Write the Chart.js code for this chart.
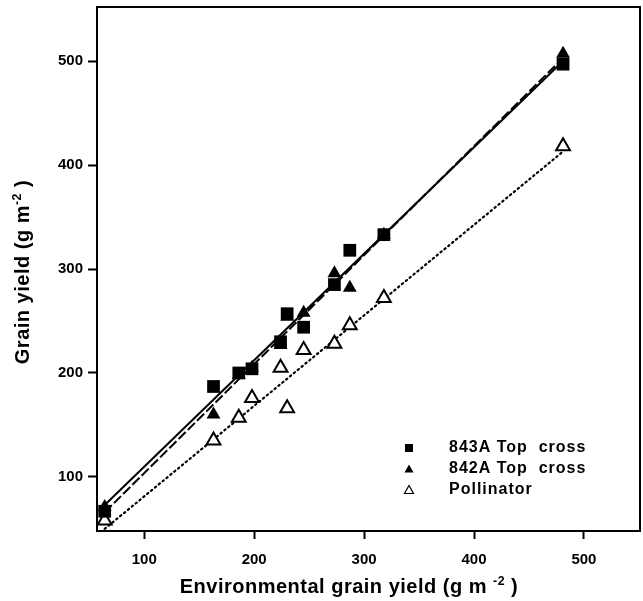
<!DOCTYPE html>
<html>
<head>
<meta charset="utf-8">
<script src="https://cdn.jsdelivr.net/npm/chart.js@4/dist/chart.umd.min.js"></script>
<style>
  body { margin: 0; background: #fff; }
  canvas { display: block; }
</style>
</head>
<body>
<canvas id="myChart" width="643" height="601"></canvas>
<script>
// Datos
let envYield     = [64, 163, 186, 198, 224, 230, 245, 273, 287, 318, 481];
let yield843A    = [67, 187, 200, 204, 230, 257, 244, 285, 318, 333, 497];
let yield842A    = [71, 160, 198, 205, 227, 254, 258, 296, 282, 333, 507];
let yieldPollin  = [58, 135, 157, 176, 205, 166, 222, 228, 246, 272, 418];
// rectas de regresion (extremos)
let fit843A      = [[64, 73], [481, 500]];
let fit842A      = [[64, 66], [481, 503]];
let fitPollin    = [[64, 50], [481, 413]];
let tickValues   = [100, 200, 300, 400, 500];
let seriesLabels = ["843A Top  cross", "842A Top  cross", "Pollinator"];

const toPts = (ys) => envYield.map((x, i) => ({ x: x, y: ys[i] }));
const toLine = (f) => f.map((p) => ({ x: p[0], y: p[1] }));

// titulos con superindice
function drawParts(ctx, parts, size) {
  let total = 0;
  parts.forEach((p) => {
    ctx.font = "bold " + (p[1] ? size * 0.62 : size) + "px 'Liberation Sans', Arial, sans-serif";
    total += ctx.measureText(p[0]).width;
  });
  let x = -total / 2;
  parts.forEach((p) => {
    ctx.font = "bold " + (p[1] ? size * 0.62 : size) + "px 'Liberation Sans', Arial, sans-serif";
    ctx.fillText(p[0], x, p[1] ? -size * 0.42 : 0);
    x += ctx.measureText(p[0]).width;
  });
}

const framePlugin = {
  id: "frame",
  afterDraw(chart) {
    const ctx = chart.ctx;
    const a = chart.chartArea;
    ctx.save();
    ctx.strokeStyle = "#000";
    ctx.lineWidth = 2;
    ctx.strokeRect(a.left, a.top, a.right - a.left, a.bottom - a.top);

    ctx.fillStyle = "#000";
    ctx.textBaseline = "alphabetic";
    ctx.textAlign = "left";
    ctx.letterSpacing = "0.5px";
    // titulo eje x
    ctx.save();
    ctx.translate(349, 593);
    drawParts(ctx, [["Environmental grain yield (g m ", false], ["-2", true], [" )", false]], 20);
    ctx.restore();
    // titulo eje y
    ctx.save();
    ctx.translate(29, 272);
    ctx.rotate(-Math.PI / 2);
    drawParts(ctx, [["Grain yield (g m", false], ["-2", true], [" )", false]], 20);
    ctx.restore();

    // leyenda
    const rows = [448, 469, 490];
    ctx.font = "bold 16px 'Liberation Sans', Arial, sans-serif";
    ctx.letterSpacing = "1px";
    ctx.textBaseline = "middle";
    rows.forEach((ry, i) => {
      const mx = 409;
      ctx.beginPath();
      if (i === 0) {
        ctx.fillRect(mx - 4, ry - 4, 8, 8);
      } else {
        ctx.moveTo(mx, ry - 4.5);
        ctx.lineTo(mx + 4.5, ry + 3.5);
        ctx.lineTo(mx - 4.5, ry + 3.5);
        ctx.closePath();
        if (i === 1) ctx.fill();
        else { ctx.lineWidth = 1.2; ctx.stroke(); }
      }
      ctx.fillText(seriesLabels[i], 449, ry);
    });
    ctx.restore();
  }
};

const noPad = (s) => { s.paddingTop = 0; s.paddingBottom = 0; s.paddingLeft = 0; s.paddingRight = 0; };

const scaleBase = {
  type: "linear",
  afterBuildTicks: (axis) => { axis.ticks = tickValues.map((v) => ({ value: v })); },
  border: { display: false },
  grid: { drawOnChartArea: false, drawTicks: true, tickColor: "#000", tickWidth: 2 },
  ticks: { color: "#000", font: { family: "'Liberation Sans', Arial, sans-serif", size: 15, weight: "bold" } }
};

async function renderGrafica() {
  const datasets = [
    { type: "scatter", label: seriesLabels[0], data: toPts(yield843A), pointStyle: "rect",
      pointRadius: 9, backgroundColor: "#000", borderColor: "#000", borderWidth: 0, clip: false },
    { type: "scatter", label: seriesLabels[1], data: toPts(yield842A), pointStyle: "triangle",
      pointRadius: 8, backgroundColor: "#000", borderColor: "#000", borderWidth: 0, clip: false },
    { type: "scatter", label: seriesLabels[2], data: toPts(yieldPollin), pointStyle: "triangle",
      pointRadius: 8, backgroundColor: "#fff", borderColor: "#000", borderWidth: 2, clip: false },
    { type: "line", data: toLine(fit843A), borderColor: "#000", borderWidth: 2, pointRadius: 0 },
    { type: "line", data: toLine(fit842A), borderColor: "#000", borderWidth: 2, pointRadius: 0,
      borderDash: [10, 3] },
    { type: "line", data: toLine(fitPollin), borderColor: "#000", borderWidth: 2.2, pointRadius: 0,
      borderDash: [1.5, 3.5], borderCapStyle: "round" }
  ];
  const config = {
    type: "scatter",
    data: { datasets },
    options: {
      responsive: false,
      devicePixelRatio: 1,
      animation: false,
      layout: { autoPadding: false, padding: { top: 7, right: 3, left: 0, bottom: 0 } },
      plugins: { legend: { display: false }, tooltip: { enabled: false } },
      scales: {
        x: Object.assign({}, scaleBase, {
          min: 57, max: 551,
          grid: Object.assign({}, scaleBase.grid, { tickLength: 8 }),
          ticks: Object.assign({}, scaleBase.ticks, { padding: 12 }),
          afterFit: (s) => { s.height = 70; noPad(s); }
        }),
        y: Object.assign({}, scaleBase, {
          min: 48, max: 552,
          grid: Object.assign({}, scaleBase.grid, { tickLength: 9 }),
          ticks: Object.assign({}, scaleBase.ticks, { padding: 5 }),
          afterFit: (s) => { s.width = 97; noPad(s); }
        })
      }
    },
    plugins: [framePlugin]
  };
  new Chart(document.getElementById("myChart"), config);
}
renderGrafica();
</script>
</body>
</html>
